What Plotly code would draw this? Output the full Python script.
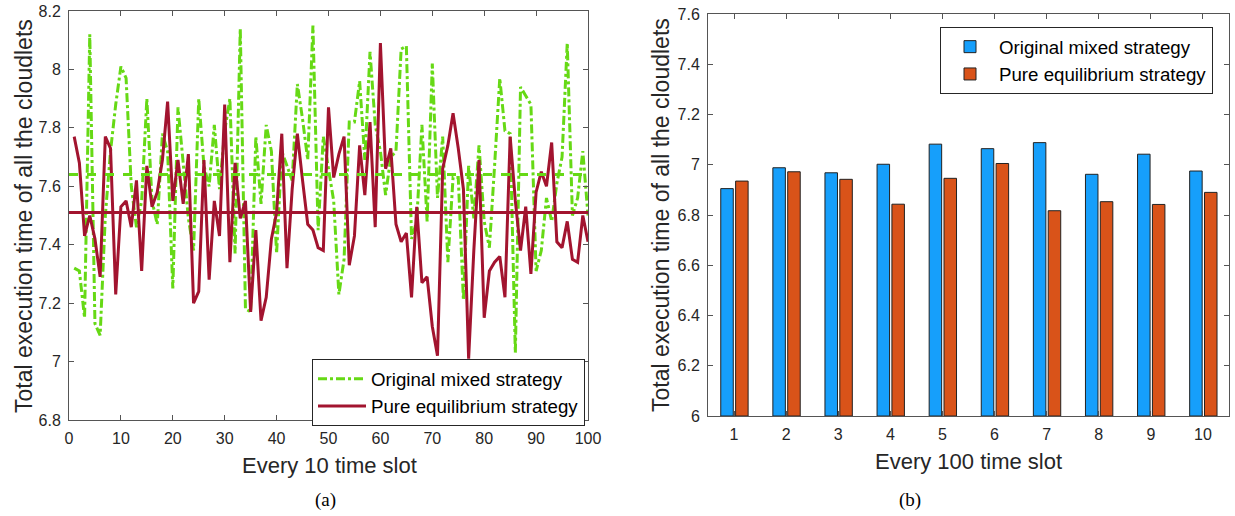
import plotly.graph_objects as go

# ---------------- data: panel (a) ----------------
slots_a = list(range(1, 101))
mixed = [7.32, 7.31, 7.15, 8.12, 7.13, 7.09, 7.50, 7.72, 7.88, 8.01,
         7.97, 7.60, 7.46, 7.55, 7.90, 7.55, 7.47, 7.78, 7.72, 7.25,
         7.87, 7.69, 7.49, 7.38, 7.90, 7.67, 7.60, 7.81, 7.59, 7.79,
         7.90, 7.37, 8.14, 7.18, 7.17, 7.77, 7.54, 7.81, 7.72, 7.37,
         7.72, 7.67, 7.62, 7.95, 7.83, 7.69, 8.15, 7.45, 7.77, 7.66,
         7.55, 7.23, 7.35, 7.82, 7.82, 7.96, 7.69, 8.06, 7.81, 7.72,
         7.57, 7.70, 7.72, 8.07, 8.08, 7.42, 7.48, 7.81, 7.48, 8.02,
         7.56, 7.77, 7.34, 7.63, 7.63, 7.21, 7.67, 7.49, 7.74, 7.48,
         7.39, 7.67, 7.97, 7.79, 7.78, 7.03, 7.94, 7.91, 7.88, 7.31,
         7.38, 7.56, 7.48, 7.61, 7.70, 8.09, 7.50, 7.56, 7.72, 7.50]
pure = [7.77, 7.68, 7.43, 7.50, 7.42, 7.29, 7.77, 7.73, 7.23, 7.53,
        7.55, 7.46, 7.62, 7.31, 7.67, 7.53, 7.58, 7.69, 7.89, 7.55,
        7.69, 7.54, 7.71, 7.20, 7.24, 7.69, 7.28, 7.55, 7.43, 7.88,
        7.34, 7.68, 7.49, 7.55, 7.17, 7.45, 7.14, 7.22, 7.42, 7.51,
        7.78, 7.32, 7.59, 7.78, 7.62, 7.47, 7.45, 7.39, 7.38, 7.87,
        7.63, 7.71, 7.77, 7.33, 7.43, 7.74, 7.57, 7.82, 7.46, 8.09,
        7.66, 7.73, 7.47, 7.41, 7.44, 7.22, 7.53, 7.27, 7.29, 7.12,
        7.02, 7.66, 7.74, 7.85, 7.73, 7.59, 7.01, 7.38, 7.69, 7.15,
        7.31, 7.34, 7.36, 7.22, 7.77, 7.55, 7.38, 7.53, 7.30, 7.58,
        7.65, 7.60, 7.75, 7.41, 7.39, 7.48, 7.35, 7.34, 7.50, 7.41]
mixed_mean = 7.64
pure_mean = 7.51
mean_x = [0, 100]

# ---------------- data: panel (b) ----------------
slots_b = [1, 2, 3, 4, 5, 6, 7, 8, 9, 10]
mixed_b = [6.905, 6.988, 6.968, 7.002, 7.082, 7.064, 7.088, 6.962, 7.042, 6.975]
pure_b = [6.935, 6.972, 6.942, 6.843, 6.946, 7.005, 6.817, 6.853, 6.842, 6.890]

ya_ticks = [6.8, 7.0, 7.2, 7.4, 7.6, 7.8, 8.0, 8.2]
ya_labels = ["6.8", "7", "7.2", "7.4", "7.6", "7.8", "8", "8.2"]
yb_ticks = [6.0, 6.2, 6.4, 6.6, 6.8, 7.0, 7.2, 7.4, 7.6]
yb_labels = ["6", "6.2", "6.4", "6.6", "6.8", "7", "7.2", "7.4", "7.6"]

GREEN = "#66d915"
RED = "#a2142f"
BLUE = "#169ffb"
ORANGE = "#d95319"
AX = "#262626"
LINE = "#555555"
FONT = "Liberation Sans"

fig = go.Figure()

fig.add_trace(go.Scatter(x=slots_a, y=mixed, mode="lines", name="Original mixed strategy",
                         line=dict(color=GREEN, width=3, dash="dashdot"),
                         xaxis="x", yaxis="y", legend="legend"))
fig.add_trace(go.Scatter(x=slots_a, y=pure, mode="lines", name="Pure equilibrium strategy",
                         line=dict(color=RED, width=3),
                         xaxis="x", yaxis="y", legend="legend"))
fig.add_trace(go.Scatter(x=mean_x, y=[mixed_mean, mixed_mean], mode="lines", showlegend=False,
                         line=dict(color=GREEN, width=3, dash="dash"), xaxis="x", yaxis="y"))
fig.add_trace(go.Scatter(x=mean_x, y=[pure_mean, pure_mean], mode="lines", showlegend=False,
                         line=dict(color=RED, width=3), xaxis="x", yaxis="y"))

fig.add_trace(go.Bar(x=slots_b, y=[v - 6 for v in mixed_b], base=6, name="Original mixed strategy",
                     marker=dict(color=BLUE, line=dict(color="#222222", width=1)),
                     offset=-0.255, width=0.24, xaxis="x2", yaxis="y2", legend="legend2",
                     customdata=mixed_b, hovertemplate="%{customdata}<extra></extra>"))
fig.add_trace(go.Bar(x=slots_b, y=[v - 6 for v in pure_b], base=6, name="Pure equilibrium strategy",
                     marker=dict(color=ORANGE, line=dict(color="#222222", width=1)),
                     offset=0.03, width=0.24, xaxis="x2", yaxis="y2", legend="legend2",
                     customdata=pure_b, hovertemplate="%{customdata}<extra></extra>"))

W, H = 1235, 516
axcommon = dict(showgrid=False, zeroline=False, showline=True, linecolor=LINE, linewidth=1,
                mirror="allticks", ticks="inside", ticklen=5, tickcolor=LINE,
                automargin=False, ticklabelstandoff=4,
                tickfont=dict(family=FONT, size=16, color=AX))

fig.update_layout(
    width=W, height=H, margin=dict(l=0, r=0, t=0, b=0, autoexpand=False),
    paper_bgcolor="white", plot_bgcolor="white",
    font=dict(family=FONT, color=AX),
    xaxis=dict(domain=[69 / W, 588 / W], range=[0, 100], tickvals=list(range(0, 101, 10)),
               anchor="y", **axcommon),
    yaxis=dict(domain=[1 - 420 / H, 1 - 11 / H], range=[6.8, 8.2], tickvals=ya_ticks,
               ticktext=ya_labels, anchor="x", **axcommon),
    xaxis2=dict(domain=[708 / W, 1229 / W], range=[0.5, 10.5], tickvals=slots_b,
                anchor="y2", **axcommon),
    yaxis2=dict(domain=[1 - 416 / H, 1 - 14 / H], range=[6.0, 7.6], tickvals=yb_ticks,
                ticktext=yb_labels, anchor="x2", **axcommon),
    legend=dict(x=312 / W, y=1 - 359 / H, xanchor="left", yanchor="top",
                bgcolor="white", bordercolor=AX, borderwidth=1, itemwidth=48,
                font=dict(family=FONT, size=18.7, color="black"), tracegroupgap=0),
    legend2=dict(x=940 / W, y=1 - 27 / H, xanchor="left", yanchor="top",
                 bgcolor="white", bordercolor=AX, borderwidth=1, itemwidth=48,
                 font=dict(family=FONT, size=18.7, color="black"), tracegroupgap=0),
    showlegend=True,
)

ann = [
    dict(text="Total execution time of all the cloudlets", x=24 / W, y=1 - 216 / H, textangle=-90,
         font=dict(family=FONT, size=23, color=AX)),
    dict(text="Total execution time of all the cloudlets", x=661 / W, y=1 - 215 / H, textangle=-90,
         font=dict(family=FONT, size=23, color=AX)),
    dict(text="Every 10 time slot", x=329 / W, y=1 - 465 / H,
         font=dict(family=FONT, size=22, color=AX)),
    dict(text="Every 100 time slot", x=968 / W, y=1 - 461 / H,
         font=dict(family=FONT, size=22, color=AX)),
    dict(text="(a)", x=325 / W, y=1 - 500 / H, font=dict(family="Liberation Serif", size=19, color="black")),
    dict(text="(b)", x=910 / W, y=1 - 500 / H, font=dict(family="Liberation Serif", size=19, color="black")),
]
for a in ann:
    a.update(xref="paper", yref="paper", showarrow=False, xanchor="center", yanchor="middle")
fig.update_layout(annotations=ann)

fig.write_html("out.html", config={"displayModeBar": False},
               post_script="document.body.style.margin='0';document.body.style.overflow='hidden';")
